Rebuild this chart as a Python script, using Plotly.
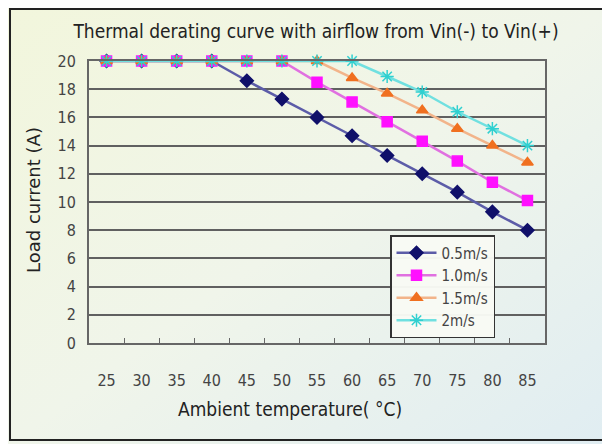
import plotly.graph_objects as go

temps = ["25", "30", "35", "40", "45", "50", "55", "60", "65", "70", "75", "80", "85"]
s05 = [20, 20, 20, 20, 18.6, 17.3, 16.0, 14.7, 13.3, 12.0, 10.7, 9.3, 8.0]
s10 = [20, 20, 20, 20, 20, 20, 18.5, 17.1, 15.7, 14.3, 12.9, 11.4, 10.1]
s15 = [20, 20, 20, 20, 20, 20, 20, 18.8, 17.7, 16.5, 15.2, 14.0, 12.8]
s20 = [20, 20, 20, 20, 20, 20, 20, 20, 18.9, 17.8, 16.4, 15.2, 14.0]
names = ["0.5m/s", "1.0m/s", "1.5m/s", "2m/s"]

title = "Thermal derating curve with airflow from Vin(-) to Vin(+)"
xtitle = "Ambient temperature( °C)"
ytitle = "Load current (A)"

cond = "DejaVu Sans Condensed, Liberation Sans Narrow, Arial Narrow, sans-serif"

# page body has an 8px default margin; the figure is sized to fit the window
W, H = 602, 436
L, R, T, B = 81, 65, 53, 101
PW, PH = W - L - R, H - T - B


def px(xf):
    return (xf - L) / PW


def py(yf):
    return (H - B - yf) / PH


fig = go.Figure()
styles = [
    (s05, "#5c5ca8", "diamond", "#10106a", 10),
    (s10, "#e070e0", "square", "#ff10ff", 10),
    (s15, "#f2b48a", "triangle-up", "#f07020", 10),
    (s20, "#70e0e0", "asterisk-open", "#30d0d0", 11),
]
for (vals, lc, sym, mc, ms), nm in zip(styles, names):
    fig.add_trace(go.Scatter(
        x=temps, y=vals, name=nm, mode="lines+markers",
        line=dict(color=lc, width=2.5),
        marker=dict(symbol=sym, color=mc, size=ms,
                    line=dict(color=mc, width=1.5)),
        cliponaxis=False,
    ))

grad_svg = ("data:image/svg+xml;utf8,"
            "<svg xmlns='http://www.w3.org/2000/svg' width='602' height='436'>"
            "<defs><linearGradient id='g' x1='0' y1='0' x2='1' y2='1'>"
            "<stop offset='0' stop-color='%23f2f6dc'/>"
            "<stop offset='0.5' stop-color='%23f0f5ea'/>"
            "<stop offset='1' stop-color='%23e0edf2'/>"
            "</linearGradient></defs>"
            "<rect width='602' height='436' fill='url(%23g)'/></svg>")

fig.update_layout(
    width=W, height=H,
    margin=dict(l=L, r=R, t=T, b=B),
    paper_bgcolor="#eef3e6",
    plot_bgcolor="rgba(0,0,0,0)",
    font=dict(family=cond, color="#333333"),
    title=dict(text=title, x=px(308), xanchor="center", xref="paper",
               y=1 - 23 / H, yanchor="middle",
               font=dict(size=19, color="#222222", family=cond)),
    showlegend=True,
    legend=dict(x=px(382), y=py(227), xanchor="left", yanchor="top",
                bgcolor="rgba(248,250,244,0.97)", bordercolor="#333333",
                borderwidth=1.5, font=dict(size=15, color="#444444"),
                tracegroupgap=0, itemwidth=40),
    images=[dict(source=grad_svg, xref="paper", yref="paper",
                 x=px(0), y=py(0), sizex=W / PW, sizey=H / PH,
                 xanchor="left", yanchor="top", sizing="stretch", layer="below")],
    shapes=[dict(type="rect", xref="paper", yref="paper",
                 x0=px(2), x1=px(597), y0=py(432), y1=py(1),
                 line=dict(color="#222222", width=2), fillcolor="rgba(0,0,0,0)")],
    annotations=[
        dict(text=xtitle, xref="paper", yref="paper", x=px(282), y=py(401),
             xanchor="center", yanchor="middle", showarrow=False,
             font=dict(size=19, color="#222222", family=cond)),
        dict(text=ytitle, xref="paper", yref="paper", x=px(25), y=py(192),
             xanchor="center", yanchor="middle", showarrow=False, textangle=-90,
             font=dict(size=18, color="#222222",
                       family="DejaVu Sans, sans-serif")),
    ],
)
fig.update_xaxes(
    type="category", categoryorder="array", categoryarray=temps,
    range=[-0.5, 12.5],
    showline=True, linecolor="#666666", linewidth=2, mirror=True,
    ticks="inside", tickson="boundaries", ticklen=5, tickcolor="#666666",
    showgrid=False, tickfont=dict(size=16, color="#444444"),
    ticklabelstandoff=22,
)
fig.update_yaxes(
    range=[0, 20], dtick=2, showline=True, linecolor="#666666", linewidth=2,
    mirror=True, showgrid=True, gridcolor="#606060", gridwidth=2,
    tickfont=dict(size=16, color="#444444"), ticks="", zeroline=False,
    ticklabelstandoff=8,
)
fig.write_html("out.html")
